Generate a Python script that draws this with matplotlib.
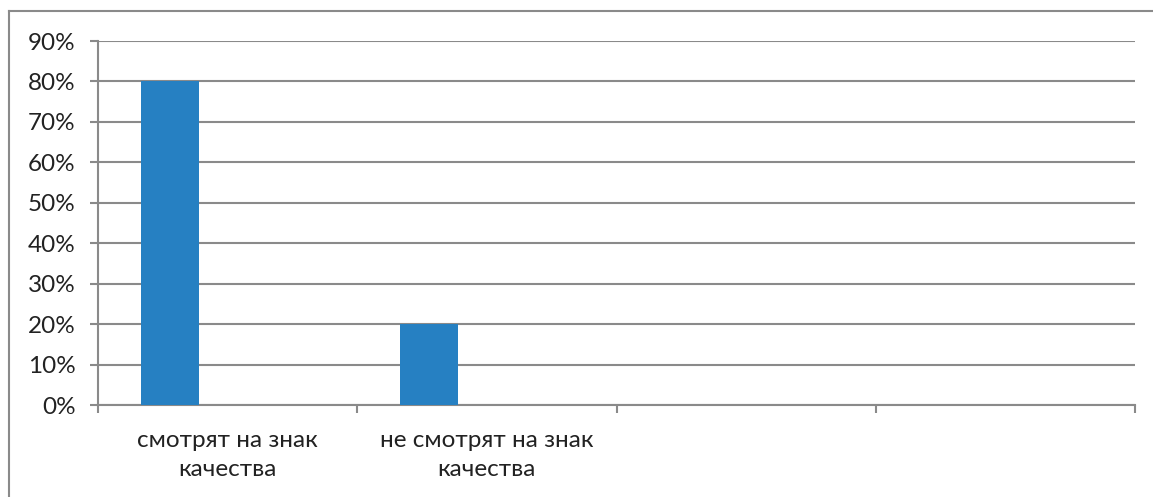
import matplotlib

matplotlib.use("Agg")

import matplotlib.pyplot as plt
import numpy as np
from matplotlib.ticker import FixedLocator, PercentFormatter

CATEGORIES = ["смотрят на знак\nкачества", "не смотрят на знак\nкачества", "", ""]
VALUES = [0.80, 0.20, 0.0, 0.0]
Y_TICKS = [0.0, 0.1, 0.2, 0.3, 0.4, 0.5, 0.6, 0.7, 0.8, 0.9]

BAR_COLOR = "#2680c2"
GRID_COLOR = "#8a8a8a"
TEXT_COLOR = "#222222"
FONT = ["Lato", "DejaVu Sans"]
FS = 17.5


def main() -> None:
    plt.rcParams["font.family"] = FONT
    fig = plt.figure(figsize=(11.53, 4.97), dpi=100)
    ax = fig.add_axes([98 / 1153, 1 - 405 / 497, (1135 - 98) / 1153, (405 - 41) / 497])

    # Excel-style cluster: three series slots with 150% gap, only first series filled
    slot = 1 / 4.5
    x = np.arange(len(CATEGORIES))
    ax.bar(x - 0.5 + 1.25 * slot, VALUES, width=slot, color=BAR_COLOR, zorder=3)

    ax.set_xlim(-0.5, len(CATEGORIES) - 0.5)
    ax.set_ylim(0, 0.9)
    ax.yaxis.set_major_locator(FixedLocator(Y_TICKS))
    ax.yaxis.set_major_formatter(PercentFormatter(1.0, decimals=0))
    ax.grid(axis="y", color=GRID_COLOR, lw=1.5, zorder=0)

    ax.set_xticks(x)
    ax.set_xticklabels(CATEGORIES, fontsize=FS, color=TEXT_COLOR, linespacing=1.45)
    ax.set_xticks(np.arange(len(CATEGORIES) + 1) - 0.5, minor=True)
    ax.tick_params(axis="x", which="major", length=0, pad=18)
    ax.tick_params(axis="x", which="minor", length=6, width=1.5, color=GRID_COLOR, direction="out")
    ax.tick_params(axis="y", length=6, width=1.5, color=GRID_COLOR, pad=10,
                   labelsize=FS, labelcolor=TEXT_COLOR)

    for side in ("top", "right"):
        ax.spines[side].set_visible(False)
    for side in ("left", "bottom"):
        ax.spines[side].set_color(GRID_COLOR)
        ax.spines[side].set_linewidth(1.5)

    # chart-area frame, only top and left edges are inside the crop
    fig.add_artist(plt.Line2D([9 / 1153, 9 / 1153], [0, 1 - 11 / 497], color=GRID_COLOR, lw=1.5))
    fig.add_artist(plt.Line2D([9 / 1153, 1], [1 - 11 / 497, 1 - 11 / 497], color=GRID_COLOR, lw=1.5))

    fig.savefig("out.png", dpi=100)


if __name__ == "__main__":
    main()
